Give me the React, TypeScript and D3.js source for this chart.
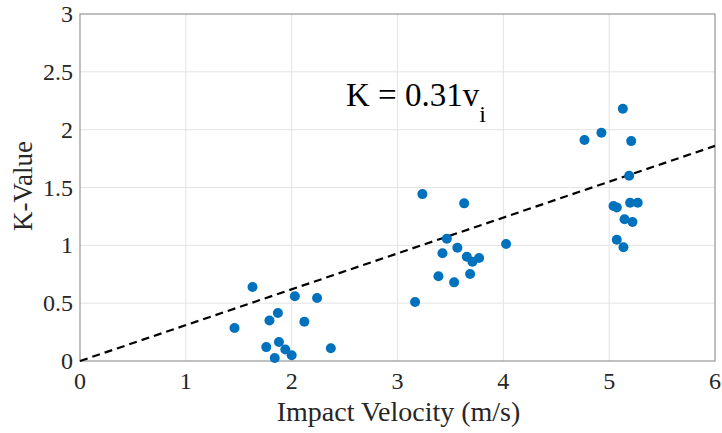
import React from "react";
import * as d3 from "d3";

const xTicks = [0, 1, 2, 3, 4, 5, 6];
const yTicks = [0, 0.5, 1, 1.5, 2, 2.5, 3];
const velocity = [
  1.46, 1.63, 1.79, 1.87, 1.76, 1.88, 1.94, 1.84, 2.0, 2.03, 2.12, 2.24, 2.37,
  3.235, 3.63, 3.466, 3.566, 3.425, 3.655, 3.771, 3.708, 4.026, 3.387, 3.535, 3.686, 3.166,
  5.129, 4.927, 4.767, 5.208, 5.189, 5.041, 5.072, 5.198, 5.27, 5.145, 5.22, 5.072, 5.135,
];
const kValue = [
  0.285, 0.64, 0.35, 0.415, 0.12, 0.165, 0.1, 0.026, 0.05, 0.56, 0.34, 0.545, 0.11,
  1.443, 1.363, 1.057, 0.979, 0.931, 0.901, 0.89, 0.858, 1.011, 0.732, 0.68, 0.752, 0.51,
  2.181, 1.973, 1.91, 1.901, 1.602, 1.34, 1.328, 1.368, 1.368, 1.225, 1.201, 1.048, 0.983,
];
const slope = 0.31;
const fitX = [0, 6];

const W = 722, H = 433;
const M = { left: 80, right: 7, top: 14, bottom: 72 };
const FONT = "'Liberation Serif', 'Times New Roman', serif";

export default function App() {
  const x = d3.scaleLinear().domain([0, 6]).range([M.left, W - M.right]);
  const y = d3.scaleLinear().domain([0, 3]).range([H - M.bottom, M.top]);
  const line = d3.line<number>().x((d) => x(d)).y((d) => y(slope * d));
  const x0 = x(0), x1 = x(6), y0 = y(0), y1 = y(3);
  return (
    <svg width={W} height={H} style={{ position: "absolute", left: 0, top: 0, background: "#fff" }} fontFamily={FONT}>
      <rect x={0} y={0} width={W} height={H} fill="#fff" />
      {xTicks.slice(1, -1).map((t) => (
        <line key={"gx" + t} x1={x(t)} x2={x(t)} y1={y0} y2={y1} stroke="#e3e3e3" strokeWidth={1} />
      ))}
      {yTicks.slice(1, -1).map((t) => (
        <line key={"gy" + t} x1={x0} x2={x1} y1={y(t)} y2={y(t)} stroke="#e3e3e3" strokeWidth={1} />
      ))}
      <rect x={x0} y={y1} width={x1 - x0} height={y0 - y1} fill="none" stroke="#969696" strokeWidth={1.2} />
      {xTicks.map((t) => (
        <text key={"tx" + t} x={x(t)} y={y0 + 28} textAnchor="middle" fontSize={24} fill="#262626">{t}</text>
      ))}
      {yTicks.map((t) => (
        <text key={"ty" + t} x={x0 - 7} y={y(t) + 8} textAnchor="end" fontSize={24} fill="#262626">{t}</text>
      ))}
      <path d={line(fitX) || ""} fill="none" stroke="#000" strokeWidth={2.2} strokeDasharray="8,5" />
      {velocity.map((v, i) => (
        <circle key={i} cx={x(v)} cy={y(kValue[i])} r={5} fill="#0072BD" />
      ))}
      <text x={346} y={106} fontSize={33} fill="#000">
        K = 0.31v
        <tspan dy={16} fontSize={24}>i</tspan>
      </text>
      <text x={(x0 + x1) / 2 + 1} y={421} textAnchor="middle" fontSize={28} fill="#262626">Impact Velocity (m/s)</text>
      <text transform={`translate(32,186) rotate(-90)`} textAnchor="middle" fontSize={27} fill="#262626">K-Value</text>
    </svg>
  );
}
